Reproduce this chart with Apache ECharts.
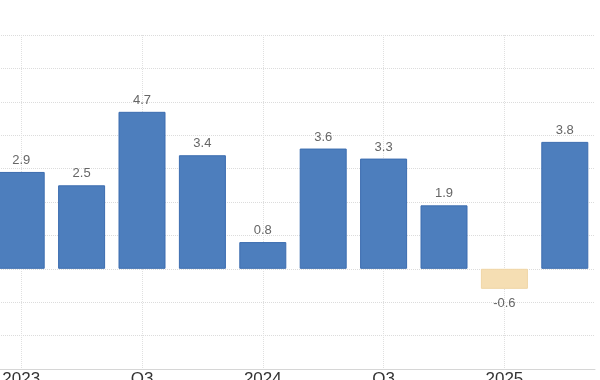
<!DOCTYPE html>
<html><head><meta charset="utf-8">
<script src="https://cdn.jsdelivr.net/npm/echarts@6/dist/echarts.min.js"></script>
<style>html,body{margin:0;padding:0;background:#fff}#c{width:600px;height:380px}</style>
</head><body><div id="c"></div>
<script>
var categories = ['2023 Q1','2023 Q2','2023 Q3','2023 Q4','2024 Q1','2024 Q2','2024 Q3','2024 Q4','2025 Q1','2025 Q2'];
var tickLabels = ['2023','','Q3','','2024','','Q3','','2025',''];
var values = [2.9, 2.5, 4.7, 3.4, 0.8, 3.6, 3.3, 1.9, -0.6, 3.8];

var chart = echarts.init(document.getElementById('c'), null, {renderer:'canvas'});
chart.setOption({
  animation:false,
  grid:{left:-9,right:5,top:35,bottom:11,containLabel:false,outerBoundsMode:'none'},
  xAxis:{
    type:'category', data:categories, boundaryGap:true,
    axisLine:{show:true,onZero:false,lineStyle:{color:'#d6d6d6',width:1}},
    axisTick:{show:false,alignWithLabel:true},
    axisLabel:{interval:1,margin:2,fontSize:17,color:'#333',fontFamily:'Liberation Sans, Arial',
      formatter:function(v,i){return tickLabels[i];}},
    splitLine:{show:true,interval:1,alignWithLabel:true,lineStyle:{color:'#e0e0e0',type:'dotted',width:1}}
  },
  yAxis:{
    type:'value', min:-3, max:7, interval:1,
    axisLine:{show:false}, axisTick:{show:false}, axisLabel:{show:false},
    splitLine:{show:true,lineStyle:{color:'#dcdcdc',type:'dotted',width:1}}
  },
  series:[{
    type:'bar', barWidth:47, clip:false,
    data:values.map(function(v){
      return v<0 ? {value:v,itemStyle:{color:'#f5deb3',borderColor:'#f0d6a6',borderWidth:1},
                    label:{position:'bottom',distance:8}} : {value:v};
    }),
    itemStyle:{color:'#4d7ebd',borderColor:'#3c6db0',borderWidth:1},
    label:{show:true,position:'top',distance:5,fontSize:13,color:'#666',fontFamily:'Liberation Sans, Arial',
      formatter:function(p){return p.value.toFixed(1);}}
  }]
});
</script></body></html>
